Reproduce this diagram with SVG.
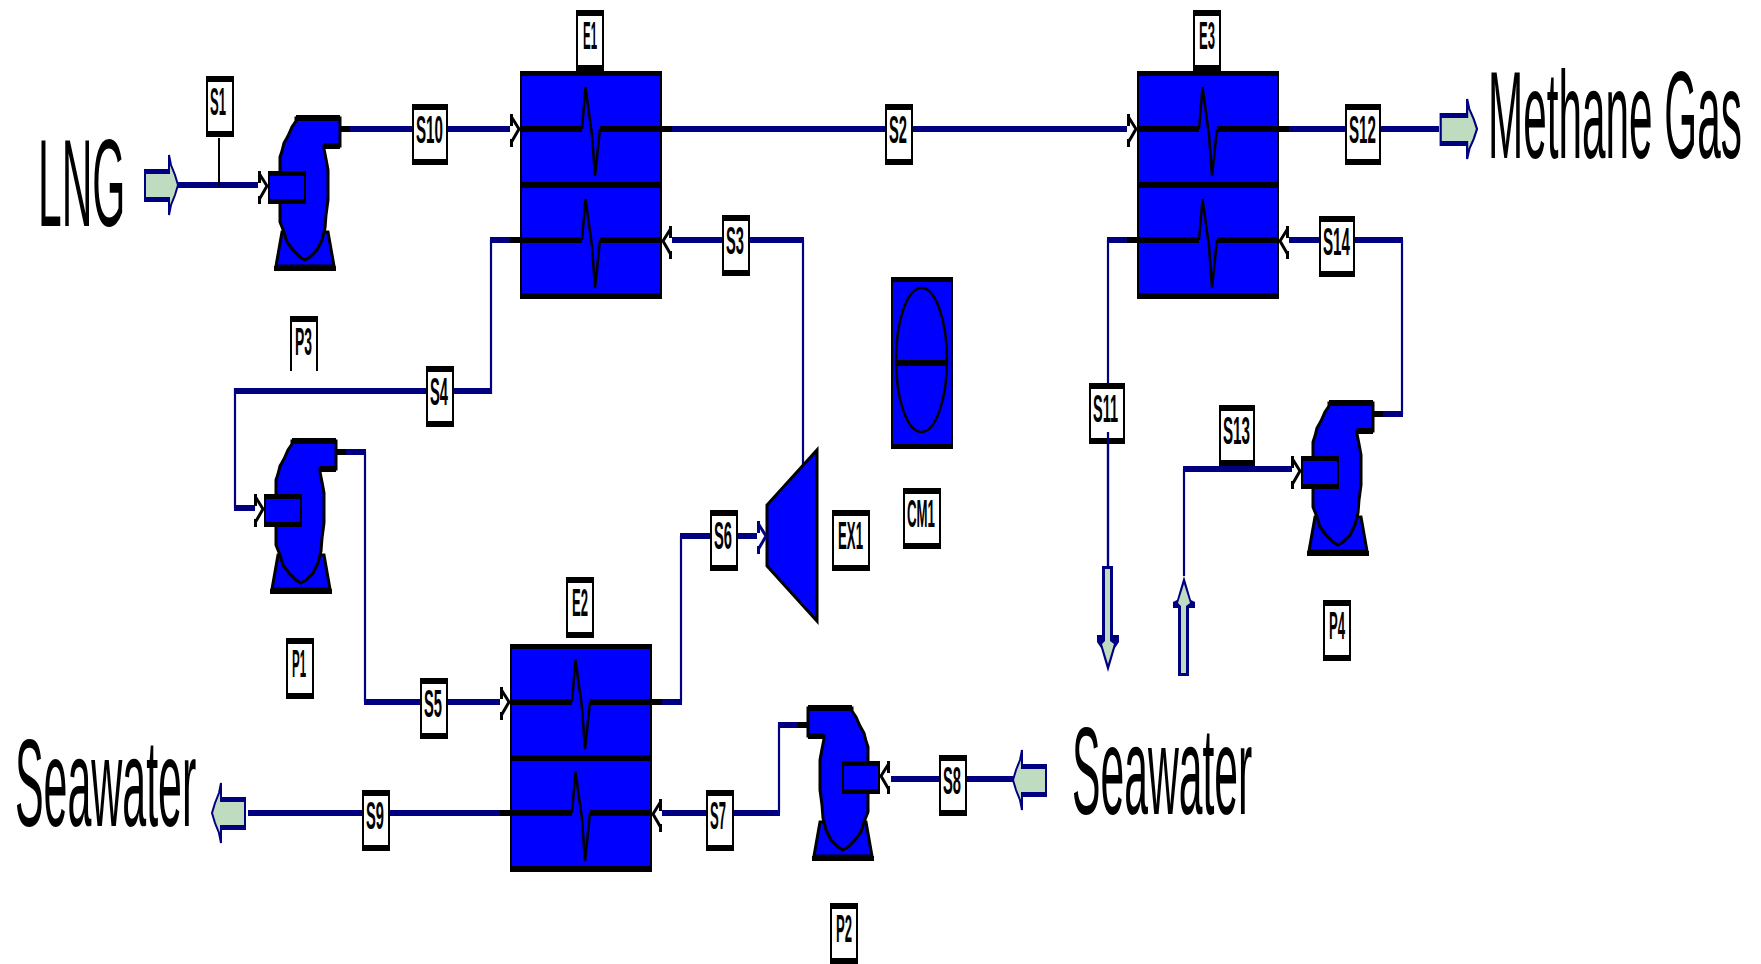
<svg xmlns="http://www.w3.org/2000/svg" xmlns:xlink="http://www.w3.org/1999/xlink" width="1761" height="964" viewBox="0 0 1761 964">
<style>
text{font-family:"Liberation Sans",Arial,sans-serif;fill:#000}
.t{font-size:39px;font-weight:700}
.big{font-size:124px}
.thick{fill:none;stroke:#000080;stroke-width:6}
.thin{fill:none;stroke:#000080;stroke-width:2.2}
.blk{fill:#000}
.blu{fill:#0000ff}
.ol{fill:#0000ff;stroke:#000;stroke-width:3}
.ln{fill:none;stroke:#000;stroke-width:6}
.pl{fill:none;stroke:#000;stroke-width:2.5}
.v{fill:#fff;stroke:#000;stroke-width:3}
.vn{fill:#fff;stroke:#000080;stroke-width:3}
.g{fill:#c0dcc0}
.n{fill:#000080}
.gs{fill:#c0dcc0;stroke:#000080;stroke-width:2}
.bg{fill:#fff}
</style>
<defs>
<g id="b28"><rect class="bg" x="0" y="0" width="28" height="61"/><rect class="blk" x="0" y="0" width="2" height="61"/><rect class="blk" x="26" y="0" width="2" height="61"/><rect class="blk" x="0" y="0" width="28" height="6"/><rect class="blk" x="0" y="55" width="28" height="6"/></g>
<g id="b36"><rect class="bg" x="0" y="0" width="36" height="61"/><rect class="blk" x="0" y="0" width="2" height="61"/><rect class="blk" x="34" y="0" width="2" height="61"/><rect class="blk" x="0" y="0" width="36" height="6"/><rect class="blk" x="0" y="55" width="36" height="6"/></g>
<g id="b38"><rect class="bg" x="0" y="0" width="38" height="61"/><rect class="blk" x="0" y="0" width="2" height="61"/><rect class="blk" x="36" y="0" width="2" height="61"/><rect class="blk" x="0" y="0" width="38" height="6"/><rect class="blk" x="0" y="55" width="38" height="6"/></g>
<path id="vr" d="M1.500 0V12M1.500 25V33M1.500 3L9 15L1.500 28"/>
<g id="pump">
<polygon class="ol" points="282,232 276,266 334,266 328,232"/>
<polygon class="ol" points="296,121 292,127 288,136 284,143 282,151 280,157 280,222 284,232 287,242 293,250 300,257 305,260 310,257 317,250 322,240 325,228 326,215 328,200 328,170 326,159 324,149 324,146 340,146 340,118 296,118"/>
<rect class="blk" x="296" y="115" width="44" height="6"/>
<rect class="blk" x="324" y="143" width="16" height="6"/>
<rect class="blk" x="274" y="266" width="62" height="5"/>
<rect class="blu" x="268" y="171" width="38" height="33"/>
<rect class="blk" x="268" y="171" width="38" height="5"/>
<rect class="blk" x="268" y="199" width="38" height="5"/>
<rect class="blk" x="268" y="171" width="2" height="33"/>
<rect class="blk" x="304" y="171" width="2" height="33"/>
<use xlink:href="#vr" href="#vr" class="v" x="258" y="171"/>
</g>
<g id="hx">
<rect class="blu" x="520" y="71" width="142" height="228"/>
<rect class="blk" x="520" y="71" width="2" height="228"/>
<rect class="blk" x="660" y="71" width="2" height="228"/>
<rect class="blk" x="520" y="71" width="142" height="5"/>
<rect class="blk" x="520" y="182" width="142" height="6"/>
<rect class="blk" x="520" y="293" width="142" height="6"/>
<path class="ln" d="M520 129H582M600 129H672M510 240H582M600 240H662"/>
<polyline class="pl" points="582,129 585.500,87 592,135 595,176 600,129"/>
<polyline class="pl" points="582,240 585.500,199 592,246 595,288 600,240"/>
<use xlink:href="#vr" href="#vr" class="v" x="510" y="114"/>
<use xlink:href="#vr" href="#vr" class="v" transform="translate(672 226) scale(-1 1)"/>
</g>
<g id="flow">
<polygon class="gs" points="-9,-30 -7,-20 -3,-10 0,0 -3,10 -7,20 -9,30"/>
<rect class="n" x="-34" y="-16" width="25" height="33"/>
<rect class="g" x="-32" y="-11" width="25" height="23"/>
</g>
</defs>

<g id="connectors">
<path class="thick" d="M178 185H258M350 129H510M672 129H1127M1288 129H1439"/>
<path d="M219 138V185" fill="none" stroke="#000" stroke-width="2"/>
<path class="thick" d="M672 240H804"/><path class="thin" d="M803 240V466"/>
<path class="thick" d="M510 240H490"/><path class="thin" d="M491 240V394"/><path class="thick" d="M492 391H234"/><path class="thin" d="M235 388V508"/><path class="thick" d="M234 508H255"/>
<path class="thick" d="M346 452H366"/><path class="thin" d="M365 452V702"/><path class="thick" d="M364 702H500"/>
<path class="thick" d="M662 702H682"/><path class="thin" d="M681 702V536"/><path class="thick" d="M680 536H757"/>
<path class="thick" d="M662 813H780"/><path class="thin" d="M779 813V725"/><path class="thick" d="M778 725H798"/>
<path class="thick" d="M891 779H1013"/>
<path class="thick" d="M500 813H248"/>
<path class="thick" d="M1127 240H1107"/><path class="thin" d="M1108 240V566"/>
<path class="thick" d="M1289 240H1403"/><path class="thin" d="M1402 240V414"/><path class="thick" d="M1403 414H1383"/>
<path class="thick" d="M1292 469H1183"/><path class="thin" d="M1184 469V576"/>
</g>

<g id="LNG-feed"><text class="big" transform="translate(38 226) scale(0.343 1)">LNG</text><use xlink:href="#flow" href="#flow" transform="translate(178 185)"/></g>
<g id="Methane-out"><use xlink:href="#flow" href="#flow" transform="translate(1477 129) scale(1.1 1)"/><text class="big" transform="translate(1488 158) scale(0.341 1)">Methane Gas</text></g>
<g id="Seawater-in"><use xlink:href="#flow" href="#flow" transform="translate(1013 780) scale(-1 1)"/><text class="big" transform="translate(1072 814) scale(0.344 1)">Seawater</text></g>
<g id="Seawater-out"><use xlink:href="#flow" href="#flow" transform="translate(212 813) scale(-1 1)"/><text class="big" transform="translate(15 826) scale(0.346 1)">Seawater</text></g>
<g id="Seawater-down">
<polygon class="n" points="1102,566 1113,566 1113,635 1119,635 1119,642 1115,648 1108,672 1101,648 1097,642 1097,635 1102,635"/>
<polygon class="g" points="1105,569 1110,569 1110,641 1114,644 1108,664 1102,644 1105,641"/>
</g>
<g id="Seawater-up">
<polygon class="n" points="1184,576 1191,600 1195,602 1195,608 1189,608 1189,676 1178,676 1178,608 1173,608 1173,602 1177,600"/>
<polygon class="g" points="1184,584 1190,603 1186,606 1186,673 1181,673 1181,606 1178,603"/>
</g>

<g id="P3"><use xlink:href="#pump" href="#pump"/><rect class="blk" x="340" y="126" width="10" height="6"/></g>
<g id="P1"><use xlink:href="#pump" href="#pump" transform="translate(-4 323)"/><rect class="blk" x="336" y="449" width="10" height="6"/></g>
<g id="P4"><use xlink:href="#pump" href="#pump" transform="translate(1033 285)"/><rect class="blk" x="1373" y="411" width="10" height="6"/></g>
<g id="P2"><use xlink:href="#pump" href="#pump" transform="matrix(-1 0 0 1 1148 590)"/><rect class="blk" x="798" y="722" width="10" height="6"/></g>
<g id="E1"><use xlink:href="#hx" href="#hx"/></g>
<g id="E2"><use xlink:href="#hx" href="#hx" transform="translate(-10 573)"/></g>
<g id="E3"><use xlink:href="#hx" href="#hx" transform="translate(617 0)"/></g>
<g id="EX1">
<polygon class="ol" points="767,505 767,566 817,621 817,450"/>
<use xlink:href="#vr" href="#vr" class="vn" x="757" y="521"/>
</g>
<g id="CM1">
<rect class="blu" x="892" y="278" width="60" height="170"/>
<rect x="892" y="278" width="60" height="170" fill="none" stroke="#000" stroke-width="2"/>
<rect class="blk" x="891" y="277" width="62" height="5"/>
<rect class="blk" x="891" y="444" width="62" height="5"/>
<ellipse cx="921.500" cy="360" rx="25.500" ry="72" fill="none" stroke="#000" stroke-width="2.500"/>
<rect class="blk" x="896" y="360" width="51" height="6"/>
</g>

<g id="labels">
<g id="L-S1"><use xlink:href="#b28" href="#b28" x="206" y="76"/><text class="t" x="210" y="115" textLength="16" lengthAdjust="spacingAndGlyphs">S1</text></g>
<g id="L-S10"><use xlink:href="#b36" href="#b36" x="412" y="104"/><text class="t" x="416" y="143" textLength="27" lengthAdjust="spacingAndGlyphs">S10</text></g>
<g id="L-S2"><use xlink:href="#b28" href="#b28" x="885" y="104"/><text class="t" x="889" y="143" textLength="18" lengthAdjust="spacingAndGlyphs">S2</text></g>
<g id="L-S3"><use xlink:href="#b28" href="#b28" x="722" y="215"/><text class="t" x="726" y="254" textLength="18" lengthAdjust="spacingAndGlyphs">S3</text></g>
<g id="L-S4"><use xlink:href="#b28" href="#b28" x="426" y="366"/><text class="t" x="430" y="405" textLength="18" lengthAdjust="spacingAndGlyphs">S4</text></g>
<g id="L-S5"><use xlink:href="#b28" href="#b28" x="420" y="678"/><text class="t" x="424" y="717" textLength="18" lengthAdjust="spacingAndGlyphs">S5</text></g>
<g id="L-S6"><use xlink:href="#b28" href="#b28" x="710" y="510"/><text class="t" x="714" y="549" textLength="18" lengthAdjust="spacingAndGlyphs">S6</text></g>
<g id="L-S7"><use xlink:href="#b28" href="#b28" x="706" y="790"/><text class="t" x="710" y="829" textLength="16" lengthAdjust="spacingAndGlyphs">S7</text></g>
<g id="L-S8"><use xlink:href="#b28" href="#b28" x="939" y="755"/><text class="t" x="943" y="794" textLength="18" lengthAdjust="spacingAndGlyphs">S8</text></g>
<g id="L-S9"><use xlink:href="#b28" href="#b28" x="362" y="790"/><text class="t" x="366" y="829" textLength="18" lengthAdjust="spacingAndGlyphs">S9</text></g>
<g id="L-S11"><use xlink:href="#b36" href="#b36" x="1089" y="383"/><text class="t" x="1093" y="422" textLength="25" lengthAdjust="spacingAndGlyphs">S11</text></g>
<g id="L-S12"><use xlink:href="#b36" href="#b36" x="1345" y="104"/><text class="t" x="1349" y="143" textLength="27" lengthAdjust="spacingAndGlyphs">S12</text></g>
<g id="L-S13"><use xlink:href="#b36" href="#b36" x="1219" y="405"/><text class="t" x="1223" y="444" textLength="27" lengthAdjust="spacingAndGlyphs">S13</text></g>
<g id="L-S14"><use xlink:href="#b36" href="#b36" x="1319" y="216"/><text class="t" x="1323" y="255" textLength="27" lengthAdjust="spacingAndGlyphs">S14</text></g>
<g id="L-E1"><use xlink:href="#b28" href="#b28" x="576" y="10"/><text class="t" x="583" y="49" textLength="14" lengthAdjust="spacingAndGlyphs">E1</text></g>
<g id="L-E2"><use xlink:href="#b28" href="#b28" x="566" y="577"/><text class="t" x="572" y="616" textLength="16" lengthAdjust="spacingAndGlyphs">E2</text></g>
<g id="L-E3"><use xlink:href="#b28" href="#b28" x="1193" y="10"/><text class="t" x="1199" y="49" textLength="16" lengthAdjust="spacingAndGlyphs">E3</text></g>
<g id="L-P1"><use xlink:href="#b28" href="#b28" x="286" y="638"/><text class="t" x="292" y="677" textLength="14" lengthAdjust="spacingAndGlyphs">P1</text></g>
<g id="L-P2"><use xlink:href="#b28" href="#b28" x="830" y="903"/><text class="t" x="836" y="942" textLength="16" lengthAdjust="spacingAndGlyphs">P2</text></g>
<g id="L-P3"><rect class="bg" x="290" y="316" width="28" height="55"/><rect class="blk" x="290" y="316" width="2" height="55"/><rect class="blk" x="316" y="316" width="2" height="55"/><rect class="blk" x="290" y="316" width="28" height="6"/><text class="t" x="295" y="355" textLength="17" lengthAdjust="spacingAndGlyphs">P3</text></g>
<g id="L-P4"><use xlink:href="#b28" href="#b28" x="1323" y="600"/><text class="t" x="1329" y="639" textLength="16" lengthAdjust="spacingAndGlyphs">P4</text></g>
<g id="L-EX1"><use xlink:href="#b38" href="#b38" x="832" y="510"/><text class="t" x="838" y="549" textLength="25" lengthAdjust="spacingAndGlyphs">EX1</text></g>
<g id="L-CM1"><use xlink:href="#b38" href="#b38" x="903" y="488"/><text class="t" x="907" y="527" textLength="28" lengthAdjust="spacingAndGlyphs">CM1</text></g>
</g>
<g id="connectors-over"><path class="thin" d="M1108 432V566"/></g>
</svg>
